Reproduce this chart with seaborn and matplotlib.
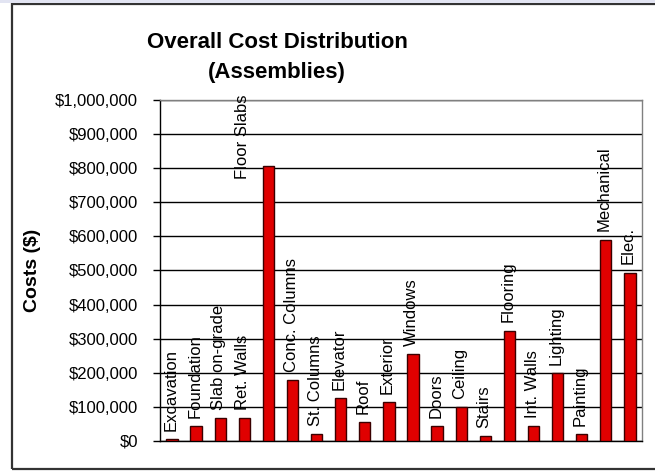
import seaborn as sns
import matplotlib.pyplot as plt
import matplotlib.patches as mpatches
import pandas as pd

# 各分项造价（美元）
categories = ['Excavation', 'Foundation', 'Slab on-grade', 'Ret. Walls', 'Floor Slabs',
              'Conc. Columns', 'St. Columns', 'Elevator', 'Roof', 'Exterior',
              'Windows', 'Doors', 'Ceiling', 'Stairs', 'Flooring',
              'Int. Walls', 'Lighting', 'Painting', 'Mechanical', 'Elec.']
costs = [5000, 44000, 66000, 66000, 807000,
         179000, 20000, 126000, 55000, 113000,
         254000, 44000, 100000, 14000, 324000,
         44000, 199000, 20000, 590000, 494000]
yticks = list(range(0, 1000001, 100000))

df = pd.DataFrame({'item': categories, 'cost': costs})

sns.set_style('white')
plt.rcParams['font.family'] = ['Liberation Sans', 'DejaVu Sans']
plt.rcParams['text.color'] = 'black'
plt.rcParams['axes.labelcolor'] = 'black'
plt.rcParams['ytick.color'] = 'black'
plt.rcParams['ytick.labelcolor'] = 'black'

fig = plt.figure(figsize=(6.55, 4.71), dpi=100)
ax = fig.add_axes([0.2443, 0.0637, 0.7357, 0.724])

sns.barplot(data=df, x='item', y='cost', color='#e00000', saturation=1,
            width=0.47, edgecolor='#3a0000', linewidth=1, ax=ax, zorder=3)

ax.set_ylim(0, 1000000)
ax.set_xlim(-0.5, len(categories) - 0.5)
ax.set_yticks(yticks)
ax.set_yticklabels(['${:,}'.format(v) for v in yticks], fontsize=12)
ax.tick_params(axis='y', direction='out', length=5, width=1, color='black',
               pad=11, left=True)
ax.set_xticks([])
ax.set_xlabel('')
ax.set_ylabel('Costs ($)', fontsize=14, fontweight='bold')
ax.yaxis.set_label_coords(-0.247, 0.5)
ax.grid(axis='y', color='black', linewidth=1, zorder=1)
ax.set_axisbelow(True)
for s in ['left', 'bottom']:
    ax.spines[s].set_color('black')
for s in ['top', 'right']:
    ax.spines[s].set_color('#808080')
for s in ax.spines.values():
    s.set_linewidth(1)

# 柱顶标注类别名称
labels = []
for p, name in zip(ax.patches, categories):
    xc = p.get_x() + p.get_width() / 2
    t = ax.annotate(name, (xc, p.get_height()), xytext=(-1, 6),
                    textcoords='offset points', rotation=90,
                    ha='center', va='bottom', fontsize=12, color='black')
    labels.append((t, xc))

fig.canvas.draw()
top = ax.get_window_extent().y1
for t, xc in labels:
    if t.get_window_extent().y1 > top:
        t.xy = (xc - 1, 1000000)
        t.set_va('top')
        t.set_position((-1, 4))

fig.text(0.423, 0.878, 'Overall Cost Distribution\n(Assemblies)', ha='center',
         va='center', fontsize=16, fontweight='bold', linespacing=1.55,
         color='black')

# 外框
fig.patches.append(mpatches.Rectangle((12 / 655, 2 / 471), 1.1, 465 / 471,
                                      transform=fig.transFigure, fill=False,
                                      edgecolor='#333333', linewidth=1.6))
fig.patches.append(mpatches.Rectangle((0, 1 - 3 / 471), 1, 3 / 471,
                                      transform=fig.transFigure,
                                      facecolor='#e2e4f2', edgecolor='none'))

plt.savefig('out.png', dpi=100)
